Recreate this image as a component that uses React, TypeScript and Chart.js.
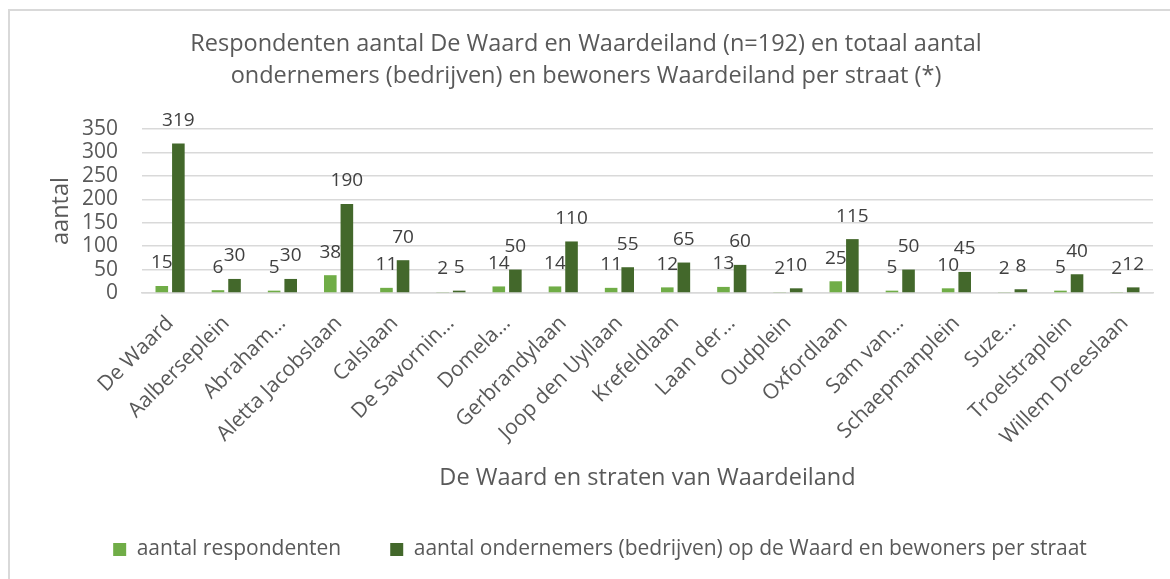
import React, { useEffect, useRef } from "react";
import { Chart, registerables } from "chart.js";

Chart.register(...registerables);

const categories = [
  "De Waard",
  "Aalberseplein",
  "Abraham…",
  "Aletta Jacobslaan",
  "Calslaan",
  "De Savornin…",
  "Domela…",
  "Gerbrandylaan",
  "Joop den Uyllaan",
  "Krefeldlaan",
  "Laan der…",
  "Oudplein",
  "Oxfordlaan",
  "Sam van…",
  "Schaepmanplein",
  "Suze…",
  "Troelstraplein",
  "Willem Dreeslaan",
];

const respondenten = [15, 6, 5, 38, 11, 2, 14, 14, 11, 12, 13, 2, 25, 5, 10, 2, 5, 2];
const ondernemersBewoners = [319, 30, 30, 190, 70, 5, 50, 110, 55, 65, 60, 10, 115, 50, 45, 8, 40, 12];

const seriesNames = [
  "aantal respondenten",
  "aantal ondernemers (bedrijven) op de Waard en bewoners per straat",
];

const titleLines = [
  "Respondenten aantal De Waard en Waardeiland (n=192) en totaal aantal",
  "ondernemers (bedrijven) en bewoners Waardeiland per straat (*)",
];

const yMin = 0;
const yMax = 350;
const yStep = 50;
const yAxisTitle = "aantal";
const xAxisTitle = "De Waard en straten van Waardeiland";

const FONT = "'Open Sans', 'DejaVu Sans', sans-serif";

const dataLabelPlugin = {
  id: "dataLabels",
  afterDatasetsDraw(chart: any) {
    const ctx = chart.ctx;
    ctx.save();
    ctx.font = `19px ${FONT}`;
    ctx.fillStyle = "#404040";
    ctx.textAlign = "center";
    ctx.textBaseline = "middle";
    chart.data.datasets.forEach((ds: any, di: number) => {
      const meta = chart.getDatasetMeta(di);
      meta.data.forEach((bar: any, i: number) => {
        ctx.fillText(String(ds.data[i]), bar.x, bar.y - 23);
      });
    });
    ctx.restore();
  },
};

const legendShiftPlugin = {
  id: "legendShift",
  afterLayout(chart: any) {
    const lg = chart.legend;
    if (lg) {
      lg.left += 14;
      lg.right += 14;
    }
  },
};

export default function App() {
  const canvasRef = useRef<HTMLCanvasElement | null>(null);

  useEffect(() => {
    if (!canvasRef.current) return;
    const chart = new Chart(canvasRef.current, {
      type: "bar",
      data: {
        labels: categories,
        datasets: [
          {
            label: seriesNames[0],
            data: respondenten,
            backgroundColor: "#70AD47",
            borderWidth: 0,
            categoryPercentage: 0.59,
            barPercentage: 0.76,
          },
          {
            label: seriesNames[1],
            data: ondernemersBewoners,
            backgroundColor: "#43682B",
            borderWidth: 0,
            categoryPercentage: 0.59,
            barPercentage: 0.76,
          },
        ],
      },
      options: {
        responsive: false,
        animation: false,
        devicePixelRatio: 1,
        layout: { padding: { left: 19, right: 17, top: 0, bottom: 9 } },
        plugins: {
          title: {
            display: true,
            text: titleLines,
            color: "#595959",
            font: { family: FONT, size: 23.5, weight: "normal", lineHeight: "32px" },
            padding: { top: 28, bottom: 37 },
          },
          legend: {
            position: "bottom",
            labels: {
              color: "#595959",
              font: { family: FONT, size: 21 },
              boxWidth: 13,
              boxHeight: 13,
              padding: 49,
            },
          },
          tooltip: { enabled: false },
        },
        scales: {
          x: {
            grid: { display: false },
            border: { display: true, color: "#D9D9D9", width: 1.5 },
            ticks: {
              color: "#595959",
              font: { family: FONT, size: 21 },
              minRotation: 45,
              maxRotation: 45,
              autoSkip: false,
              padding: 10,
            },
            title: {
              display: true,
              text: xAxisTitle,
              color: "#595959",
              font: { family: FONT, size: 23.5, lineHeight: 1.0 },
              padding: { top: 4, bottom: 0 },
            },
            afterFit: (scale: any) => {
              scale.height = 197;
            },
          },
          y: {
            min: yMin,
            max: yMax,
            grid: { color: "#D9D9D9", lineWidth: 1.5, drawTicks: false },
            border: { display: false },
            ticks: {
              stepSize: yStep,
              autoSkip: false,
              color: "#595959",
              font: { family: FONT, size: 21 },
              padding: 24,
            },
            title: {
              display: true,
              text: yAxisTitle,
              color: "#595959",
              font: { family: FONT, size: 23.5, lineHeight: 1.2 },
              padding: { top: 27.9, bottom: 0 },
            },
            afterFit: (scale: any) => {
              scale.width = 123;
            },
          },
        },
      },
      plugins: [dataLabelPlugin, legendShiftPlugin],
    });
    return () => chart.destroy();
  }, []);

  return (
    <div
      style={{
        position: "fixed",
        left: 0,
        top: 0,
        width: 1170,
        height: 579,
        background: "#ffffff",
        overflow: "hidden",
      }}
    >
      <div
        style={{
          position: "absolute",
          left: 8,
          top: 9,
          width: 1200,
          height: 620,
          border: "2px solid #D9D9D9",
          boxSizing: "border-box",
        }}
      />
      <canvas
        ref={canvasRef}
        width={1170}
        height={579}
        style={{ position: "absolute", left: 0, top: 0, width: 1170, height: 579 }}
      />
    </div>
  );
}
